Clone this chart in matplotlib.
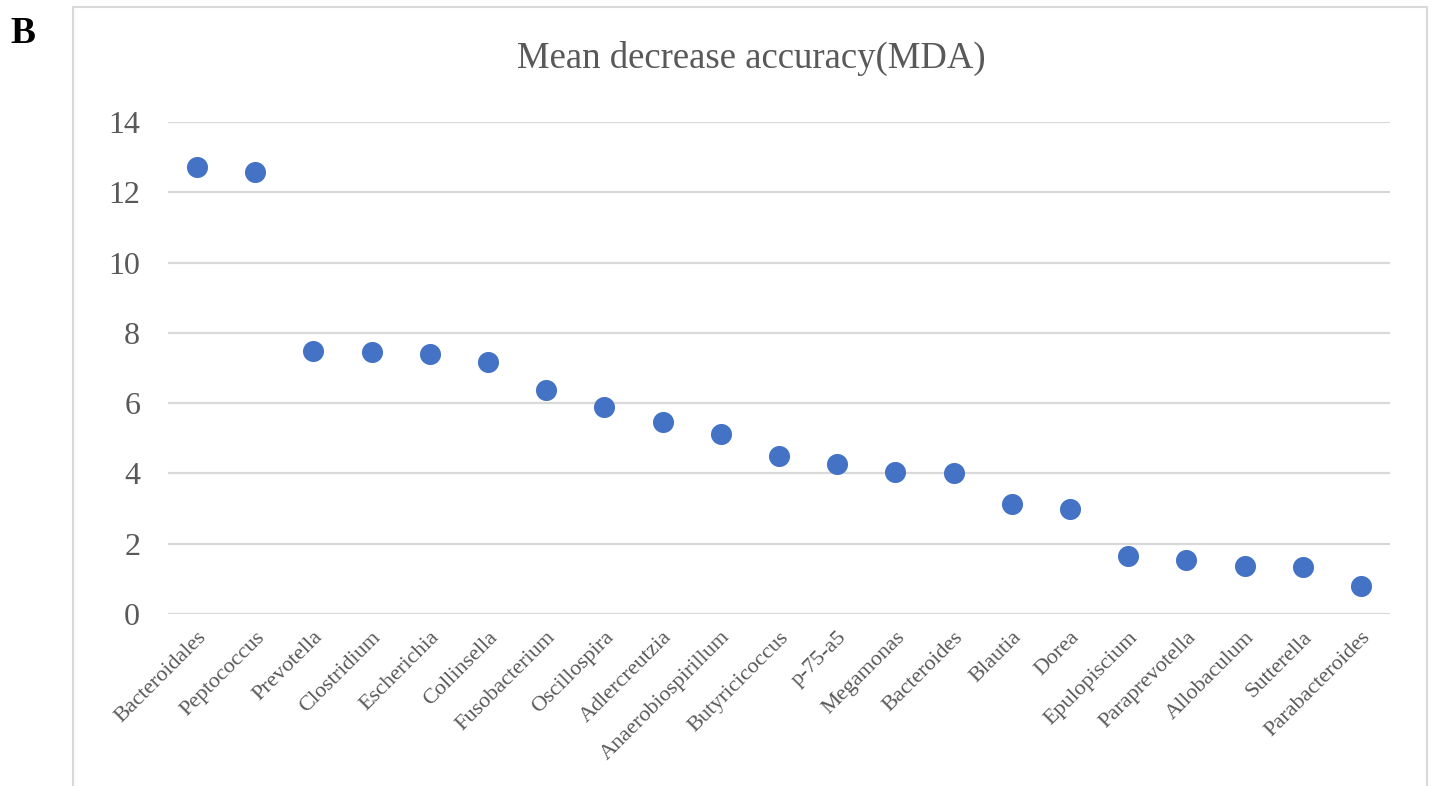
import matplotlib.pyplot as plt
from matplotlib.lines import Line2D

# Dados
genera = ['Bacteroidales', 'Peptococcus', 'Prevotella', 'Clostridium', 'Escherichia',
          'Collinsella', 'Fusobacterium', 'Oscillospira', 'Adlercreutzia',
          'Anaerobiospirillum', 'Butyricicoccus', 'p-75-a5', 'Megamonas', 'Bacteroides',
          'Blautia', 'Dorea', 'Epulopiscium', 'Paraprevotella', 'Allobaculum',
          'Sutterella', 'Parabacteroides']
mda = [12.72, 12.58, 7.48, 7.45, 7.40, 7.17, 6.37, 5.89, 5.46, 5.12, 4.50, 4.27,
       4.04, 4.01, 3.13, 2.99, 1.65, 1.54, 1.38, 1.34, 0.80]
yticks = [0, 2, 4, 6, 8, 10, 12, 14]

plt.rcParams['font.family'] = ['Liberation Serif', 'DejaVu Serif']
gray = '#595959'

fig = plt.figure(figsize=(14.34, 7.86), dpi=100)
ax = fig.add_axes([168 / 1434, 1 - 614 / 786, (1390 - 168) / 1434, (614 - 122) / 786])

x = list(range(len(genera)))
ax.scatter(x, mda, s=230, color='#4472C4', zorder=3, linewidths=0)

ax.set_xlim(-0.5, len(genera) - 0.5)
ax.set_ylim(0, 14)
ax.set_yticks(yticks)
ax.set_xticks(x)
ax.set_xticklabels(genera, rotation=45, ha='right', va='top', rotation_mode='anchor',
                   fontsize=16, color=gray)
ax.tick_params(axis='x', length=0, pad=10)
ax.tick_params(axis='y', length=0, pad=20, labelsize=23, labelcolor=gray)
ax.grid(axis='y', color='#d9d9d9', linewidth=1.6)
ax.set_axisbelow(True)
for s in ax.spines.values():
    s.set_visible(False)

# Moldura do gráfico
fc = '#d9d9d9'
x0, x1, y0 = 73 / 1434, 1427 / 1434, 1 - 7 / 786
fig.add_artist(Line2D([x0, x1], [y0, y0], transform=fig.transFigure, color=fc, lw=1.5))
fig.add_artist(Line2D([x0, x0], [y0, 0], transform=fig.transFigure, color=fc, lw=1.5))
fig.add_artist(Line2D([x1, x1], [y0, 0], transform=fig.transFigure, color=fc, lw=1.5))

fig.text(751 / 1434, 1 - 58 / 786, 'Mean decrease accuracy(MDA)', ha='center', va='center',
         fontsize=26.5, color=gray)
fig.text(10 / 1434, 1 - 43 / 786, 'B', ha='left', va='baseline', fontsize=27,
         fontweight='bold', color='black')

fig.savefig('out.png', dpi=100)
